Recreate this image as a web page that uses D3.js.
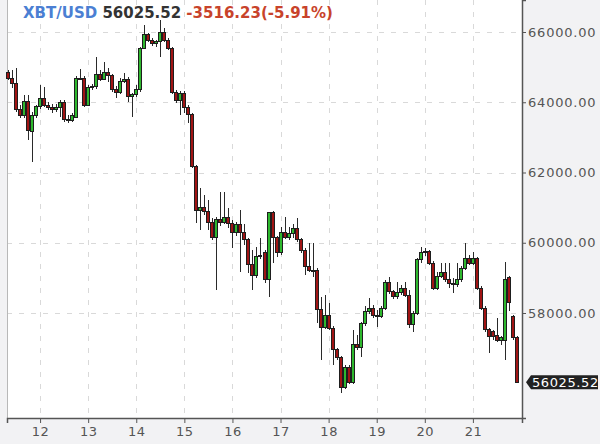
<!DOCTYPE html>
<html><head><meta charset="utf-8">
<script src="https://cdn.jsdelivr.net/npm/d3@7"></script>
<style>
html,body{margin:0;padding:0;background:#f2f2f4;}
svg{display:block;font-family:"DejaVu Sans",sans-serif;}
</style></head>
<body>
<svg id="chart" width="600" height="444"></svg>
<script>
const pair = "XBT/USD";
const refPrice = 59541.75;
const startTime = "2021-11-11T08:00:00Z";
const dayTicks = ["2021-11-12","2021-11-13","2021-11-14","2021-11-15","2021-11-16","2021-11-17","2021-11-18","2021-11-19","2021-11-20","2021-11-21"];
const priceTicks = [58000, 60000, 62000, 64000, 66000];

const opens = [64860,64690,64520,63780,63610,64010,63180,63610,63870,64120,
 63920,63840,63780,63840,63980,63500,63470,63580,64660,64690,
 63920,64410,64460,64800,64660,64860,64750,64350,64290,64600,
 64660,64150,64210,64350,65540,65920,65770,65660,65720,66000,
 65770,65540,64290,64060,64260,63840,63640,62160,60930,60990,
 60900,60590,60160,60650,60590,60730,60560,60280,60510,60280,
 60080,59370,59080,59600,59710,58940,60850,60140,59710,60280,
 60160,60250,60420,60080,59790,59310,59220,59200,58090,57600,
 57940,57570,56950,56720,55890,56460,56030,57090,57030,57690,
 58030,58140,57940,57910,58140,58880,58600,58460,58570,58710,
 58510,57660,58000,59510,59710,59740,59420,58710,59050,59140,
 58940,58830,58800,58940,59280,59540,59420,59540,58710,58140,
 57520,57460,57370,57230,57230,59000,57890,57290];
const highs = [64920,64920,64980,63920,64210,64210,63720,63920,64490,64430,
 64010,63950,63950,64060,64060,63640,63690,64750,64950,64750,
 64490,64520,65290,64920,65150,64980,64800,64460,64690,64830,
 64720,64260,64490,65570,66200,65970,65830,65770,66340,66110,
 65830,65570,64350,64320,64320,63920,63690,62210,61560,61360,
 61220,60700,60730,61450,61450,60990,60650,60590,60930,60530,
 60140,59790,59880,60140,59790,60880,60900,60190,60450,60730,
 60450,60530,60700,60140,59850,59990,59990,59280,58460,58510,
 58290,57630,57000,56780,56520,56520,57520,57370,57740,58200,
 58430,58230,58090,58200,58940,59030,58660,58880,58800,58880,
 58660,58060,59570,59880,59850,59790,59480,59170,59420,59420,
 59420,59000,59420,59340,59990,59650,59740,59600,58770,58200,
 57570,57520,57860,57350,59450,59050,57940,57350];
const lows = [64630,64410,63720,63550,63550,62930,62300,63550,63810,63870,
 63780,63690,63720,63580,63440,63410,63440,63550,64630,63870,
 63890,64350,64380,64600,64630,64580,64290,64120,64230,64550,
 64010,63580,64150,64290,65520,65720,65600,65570,65290,65720,
 65490,64240,63980,63640,63690,63410,62130,60560,60360,60790,
 60360,60080,58660,60480,60530,60420,59850,60190,59170,59940,
 59140,58660,59000,59540,58860,58460,59420,59600,59650,60110,
 60080,60140,60020,59710,59080,59170,59030,57720,56660,57540,
 57520,56520,56660,55720,55840,55980,55980,56950,56750,57630,
 57970,57860,57600,57860,58090,58540,58400,58400,58510,58460,
 57570,57460,57940,59420,59620,59370,58660,58660,59000,58880,
 58710,58570,58740,58880,59220,59370,59370,58660,58090,57460,
 56860,57230,57170,57090,56660,58060,57230,56010];
const closes = [64690,64520,63780,63610,64010,63210,63610,63870,64120,63920,
 63840,63780,63840,63980,63500,63470,63610,64690,64690,63920,
 64410,64460,64800,64660,64860,64750,64350,64290,64600,64660,
 64150,64210,64350,65540,65920,65770,65660,65720,66000,65770,
 65540,64290,64060,64260,63840,63640,62160,60930,60990,60900,
 60590,60160,60650,60590,60730,60560,60280,60510,60280,60080,
 59370,59080,59600,59650,58940,60850,60140,59710,60280,60160,
 60250,60420,60080,59790,59310,59220,59200,58090,57600,57940,
 57570,56950,56720,55890,56460,56030,57090,57030,57690,58030,
 58140,57940,57910,58140,58880,58600,58460,58570,58710,58510,
 57660,58000,59510,59710,59740,59420,58710,59050,59140,58940,
 58830,58800,58940,59280,59540,59420,59540,58710,58140,57520,
 57320,57320,57230,57290,58940,58290,57290,56025.52];

const loc = d3.formatLocale({decimal: ".", thousands: "", grouping: [3], currency: ["", ""], minus: "-"});
const f2 = loc.format(".2f");

const t0 = new Date(startTime);
const times = opens.map((_, i) => d3.utcHour.offset(t0, 2 * i));
const candles = opens.map((o, i) => ({t: times[i], o, h: highs[i], l: lows[i], c: closes[i]}));

const L = 7, R = 522, T = 0, B = 418;
const svg = d3.select("#chart");
svg.append("rect").attr("width", 600).attr("height", 444).attr("fill", "#f2f2f4");
svg.append("rect").attr("x", L).attr("y", T).attr("width", R - L).attr("height", B - T).attr("fill", "#ffffff");

const x = d3.scaleUtc()
  .domain([d3.utcMinute.offset(t0, -30), d3.utcMinute.offset(t0, 30 + 257 * 60 - 60)])
  .range([L, R]);
const y = d3.scaleLinear().domain([55010.7, 66911.2]).range([B, T]);

const days = dayTicks.map(d => new Date(d + "T00:00:00Z"));

// grid
const grid = svg.append("g").attr("stroke", "#d9d9d9").attr("stroke-dasharray", "5,7").attr("shape-rendering", "crispEdges");
grid.selectAll(".gy").data(priceTicks).join("line")
  .attr("x1", L).attr("x2", R).attr("y1", d => Math.round(y(d)) + 0.5).attr("y2", d => Math.round(y(d)) + 0.5);
grid.selectAll(".gx").data(days).join("line")
  .attr("y1", T).attr("y2", B).attr("x1", d => Math.round(x(d)) + 0.5).attr("x2", d => Math.round(x(d)) + 0.5);

// left border
svg.append("line").attr("x1", L + 0.5).attr("x2", L + 0.5).attr("y1", T).attr("y2", B)
  .attr("stroke", "#b8b8b8").attr("shape-rendering", "crispEdges");

// candles
const cg = svg.append("g").attr("shape-rendering", "crispEdges");
cg.selectAll("line.w").data(candles).join("line")
  .attr("x1", d => Math.round(x(d.t)) + 0.5).attr("x2", d => Math.round(x(d.t)) + 0.5)
  .attr("y1", d => y(d.h)).attr("y2", d => y(d.l))
  .attr("stroke", "#2a2a2a").attr("stroke-width", 1);
cg.selectAll("rect.b").data(candles).join("rect")
  .attr("x", d => Math.round(x(d.t)) - 1.5)
  .attr("width", 3)
  .attr("y", d => y(Math.max(d.o, d.c)))
  .attr("height", d => Math.max(1, Math.abs(y(d.o) - y(d.c))))
  .attr("fill", d => d.c >= d.o ? "#2eb82e" : "#a01414")
  .attr("stroke", "#1e1e1e").attr("stroke-width", 1);

// right axis
const ra = svg.append("g").attr("transform", `translate(${R},0)`)
  .call(d3.axisRight(y).tickValues(priceTicks).tickFormat(f2).tickSize(4).tickSizeOuter(4));
ra.select(".domain").attr("stroke", "#555").attr("stroke-width", 1.5);
ra.selectAll(".tick line").attr("stroke", "#555");
ra.selectAll(".tick text").attr("fill", "#555").attr("font-size", 13).attr("letter-spacing", "0.8px")
  .attr("font-family", "DejaVu Sans").attr("x", 6);

// bottom axis
const ba = svg.append("g").attr("transform", `translate(0,${B})`)
  .call(d3.axisBottom(x).tickValues(days).tickFormat(d3.utcFormat("%-d")).tickSize(5).tickSizeOuter(5));
ba.select(".domain").attr("stroke", "#555").attr("stroke-width", 1.5);
ba.selectAll(".tick line").attr("stroke", "#555");
ba.selectAll(".tick text").attr("fill", "#555").attr("font-size", 13).attr("letter-spacing", "0.5px")
  .attr("font-family", "DejaVu Sans").attr("y", 9);

// last price tag
const last = closes[closes.length - 1];
const yc = y(last);
svg.append("path")
  .attr("d", `M${R + 4},${yc} L${R + 9},${yc - 7} L598,${yc - 7} L598,${yc + 7} L${R + 9},${yc + 7} Z`)
  .attr("fill", "#222");
svg.append("text").attr("x", R + 10).attr("y", yc + 4.8).attr("fill", "#fff")
  .attr("font-size", 13).attr("letter-spacing", "0.6px").text(f2(last));

// header
const chg = last - refPrice;
const pct = chg / refPrice * 100;
const head = svg.append("text").attr("x", 23).attr("y", 18).attr("font-size", 15).attr("font-weight", "bold");
head.append("tspan").attr("fill", "#4b7fd3").text(pair);
head.append("tspan").attr("fill", "#333").text(" " + f2(last));
head.append("tspan").attr("fill", "#c8432b").text(" " + f2(chg) + "(" + f2(pct) + "%)");
</script>
</body></html>
